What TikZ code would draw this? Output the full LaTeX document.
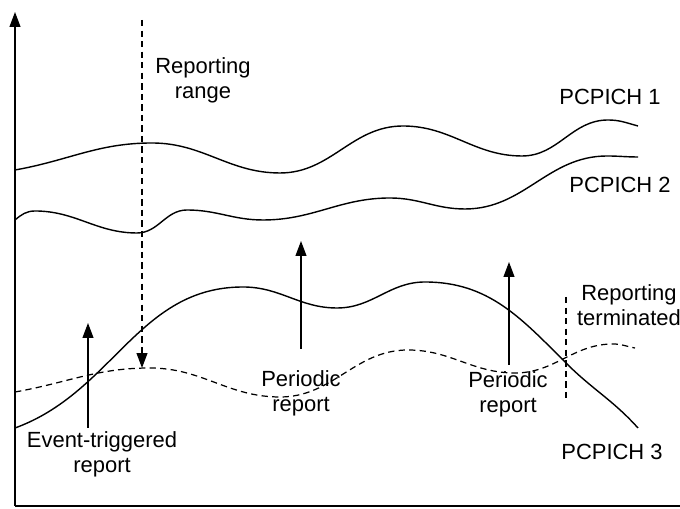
\documentclass[tikz,border=0pt]{standalone}
\usepackage{fontspec}
\setmainfont{Liberation Sans}
\usetikzlibrary{arrows.meta}
\begin{document}
\begin{tikzpicture}[x=0.02cm, y=0.02cm,
    every node/.style={font=\fontsize{12.5}{14.3}\selectfont, align=center, inner sep=1pt},
    curve/.style={line width=0.8pt},
    rangeline/.style={line width=0.7pt, dash pattern=on 3.6pt off 2.4pt},
    report/.style={line width=0.7pt, -{Triangle[length=8.5pt,width=6.2pt]}}]

    \useasboundingbox (0,0) rectangle (680,509);

    % Axes
    \coordinate (o) at (15,3);
    \coordinate (ytop) at (15,497);
    \coordinate (xend) at (680,3);
    \draw[report] (o) -- (ytop);
    \draw[line width=0.7pt] (o) -- (xend);

    % Pilot curves
    \draw[curve] (15,339) to[out=10,in=180] (152,366) to[out=0,in=180] (280,336)
        to[out=0,in=180] (403,383) to[out=0,in=180] (522,353)
        to[out=0,in=180] (608,389) to[out=0,in=165] (638,383);
    \draw[curve] (15,289) to[out=40,in=180] (35,298) to[out=0,in=180] (137,276)
        to[out=0,in=180] (187,299) to[out=0,in=180] (263,289)
        to[out=0,in=180] (390,311) to[out=0,in=180] (465,300)
        to[out=0,in=180] (607,353) to[out=0,in=180] (638,352);
    \draw[curve] (15,81) to[out=20,in=180] (243,222) to[out=0,in=180] (337,201)
        to[out=0,in=180] (425,227) to[out=0,in=135] (566,146)
        to[out=-45,in=132] (638,81);

    % Reporting range (dashed)
    \draw[rangeline] (15,117) to[out=10,in=180] (150,141) to[out=0,in=180] (280,112)
        to[out=0,in=180] (408,159) to[out=0,in=180] (515,136)
        to[out=0,in=180] (613,165) to[out=0,in=170] (635,161);

    % Labels
    \node (pc1) at (610,412) {PCPICH 1};
    \node (pc2) at (620,324) {PCPICH 2};
    \node (pc3) at (612,57) {PCPICH 3};
    \node (range) at (203,429) {Reporting\\range};
    \node (term) at (629,204) {Reporting\\terminated};
    \node (evt) at (102,55) {Event-triggered\\report};
    \node (per1) at (301,116) {Periodic\\report};
    \node (per2) at (508,115) {Periodic\\report};

    % Reports
    \coordinate (rng-s) at (142,489);
    \coordinate (rng-e) at (142,141);
    \draw[report, rangeline] (rng-s) -- (rng-e);

    \coordinate (evt-s) at (88,81);
    \coordinate (evt-e) at (88,186);
    \draw[report] (evt-s) -- (evt-e);

    \coordinate (per1-s) at (301,160);
    \coordinate (per1-e) at (301,268);
    \draw[report] (per1-s) -- (per1-e);

    \coordinate (per2-s) at (509,144);
    \coordinate (per2-e) at (509,247);
    \draw[report] (per2-s) -- (per2-e);

    \coordinate (term-s) at (566,212);
    \coordinate (term-e) at (566,111);
    \draw[rangeline] (term-s) -- (term-e);

\end{tikzpicture}
\end{document}
